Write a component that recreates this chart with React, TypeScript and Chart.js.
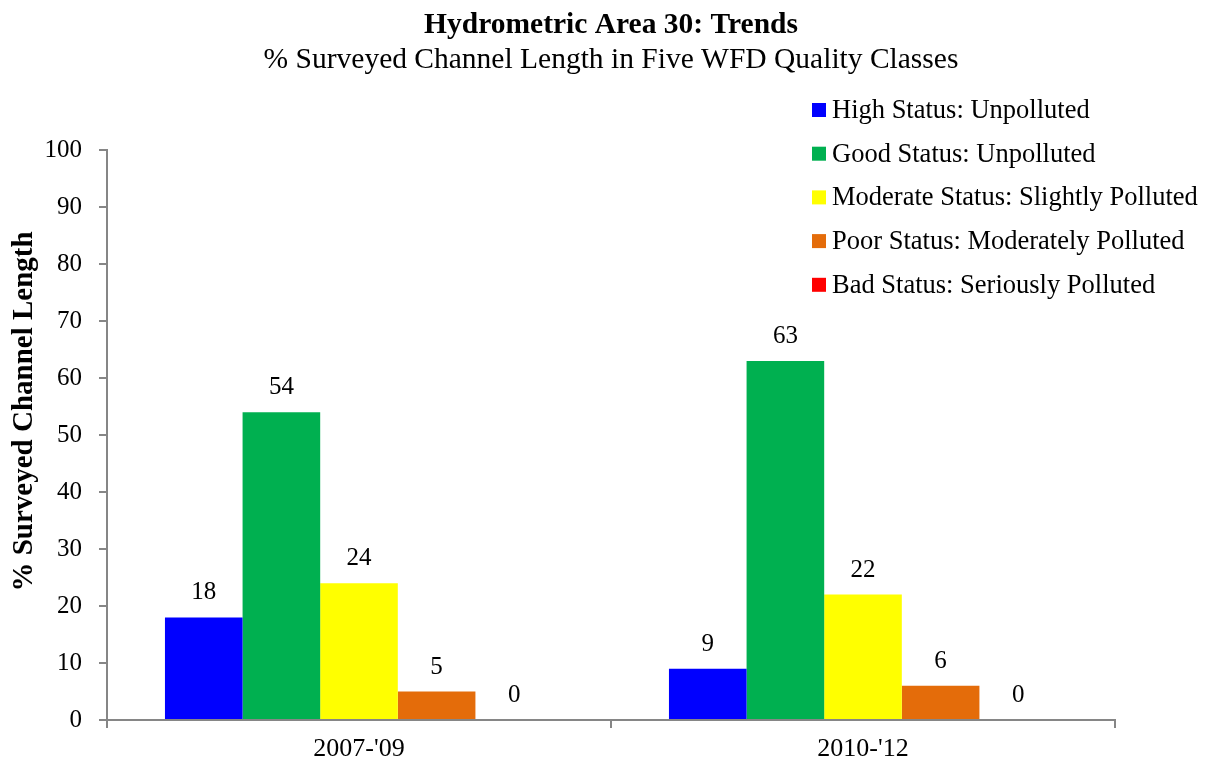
import React, { useEffect, useRef } from "react";
import { Chart, registerables } from "chart.js";

Chart.register(...registerables);

const categories = ["2007-'09", "2010-'12"];
const seriesNames = [
  "High Status: Unpolluted",
  "Good Status: Unpolluted",
  "Moderate Status: Slightly Polluted",
  "Poor Status: Moderately Polluted",
  "Bad Status: Seriously Polluted",
];
const highValues = [18, 9];
const goodValues = [54, 63];
const moderateValues = [24, 22];
const poorValues = [5, 6];
const badValues = [0, 0];
const seriesColors = ["#0000FF", "#00B050", "#FFFF00", "#E46C0A", "#FF0000"];
const yTicks = [0, 10, 20, 30, 40, 50, 60, 70, 80, 90, 100];

const titleText = "Hydrometric Area 30: Trends";
const subtitleText = "% Surveyed Channel Length in Five WFD Quality Classes";
const yTitleText = "% Surveyed Channel Length";

const FONT = '"Liberation Serif", "Times New Roman", serif';
const AXIS_GRAY = "#868686";

const overlayPlugin = {
  id: "overlay",
  afterDatasetsDraw(chart: any) {
    const ctx = chart.ctx;
    ctx.save();
    // value labels
    ctx.fillStyle = "#000";
    ctx.font = `25px ${FONT}`;
    ctx.textAlign = "center";
    ctx.textBaseline = "alphabetic";
    chart.data.datasets.forEach((ds: any, i: number) => {
      const meta = chart.getDatasetMeta(i);
      meta.data.forEach((bar: any, j: number) => {
        ctx.fillText(String(ds.data[j]), bar.x, bar.y - 18);
      });
    });
    // titles
    const cx = (chart.chartArea.left + chart.chartArea.right) / 2;
    ctx.font = `bold 29.5px ${FONT}`;
    ctx.fillText(titleText, cx, 33);
    ctx.font = `29.5px ${FONT}`;
    ctx.fillText(subtitleText, cx, 68);
    // y axis title
    ctx.save();
    ctx.translate(32, 411.5);
    ctx.rotate(-Math.PI / 2);
    ctx.font = `bold 29px ${FONT}`;
    ctx.fillText(yTitleText, 0, 0);
    ctx.restore();
    // legend
    ctx.textAlign = "left";
    ctx.font = `26.5px ${FONT}`;
    seriesNames.forEach((name, i) => {
      const cy = 110 + i * 43.7;
      ctx.fillStyle = seriesColors[i];
      ctx.fillRect(812, cy - 7, 14, 14);
      ctx.fillStyle = "#000";
      ctx.fillText(name, 832, cy + 8);
    });
    ctx.restore();
  },
};

export default function App() {
  const ref = useRef<HTMLCanvasElement>(null);
  useEffect(() => {
    if (!ref.current) return;
    const valueSets = [highValues, goodValues, moderateValues, poorValues, badValues];
    const chart = new Chart(ref.current, {
      type: "bar",
      data: {
        labels: categories,
        datasets: seriesNames.map((name, i) => ({
          label: name,
          data: valueSets[i],
          backgroundColor: seriesColors[i],
          borderWidth: 0,
          categoryPercentage: 0.77,
          barPercentage: 1,
        })),
      },
      options: {
        responsive: false,
        animation: false,
        layout: { padding: { left: 0, top: 150, right: 97, bottom: 0 } },
        plugins: {
          legend: { display: false },
          tooltip: { enabled: false },
          title: { display: false },
        },
        scales: {
          x: {
            afterFit: (s: any) => {
              s.height = 45;
            },
            grid: {
              drawOnChartArea: false,
              drawTicks: true,
              tickLength: 8,
              color: AXIS_GRAY,
              lineWidth: 2,
              offset: true,
            },
            border: { color: AXIS_GRAY, width: 2 },
            ticks: {
              color: "#000",
              font: { family: FONT, size: 26 },
              padding: 6,
              maxRotation: 0,
            },
          },
          y: {
            min: 0,
            max: 100,
            afterFit: (s: any) => {
              s.width = 107;
            },
            afterBuildTicks: (s: any) => {
              s.ticks = yTicks.map((v) => ({ value: v }));
            },
            grid: {
              drawOnChartArea: false,
              drawTicks: true,
              tickLength: 8,
              color: AXIS_GRAY,
              lineWidth: 2,
            },
            border: { color: AXIS_GRAY, width: 2 },
            ticks: {
              color: "#000",
              font: { family: FONT, size: 25 },
              padding: 17,
            },
          },
        },
      },
      plugins: [overlayPlugin],
    });
    return () => chart.destroy();
  }, []);
  return (
    <div style={{ position: "absolute", left: 0, top: 0, width: 1212, height: 765, background: "#fff" }}>
      <canvas ref={ref} width={1212} height={765} />
    </div>
  );
}
